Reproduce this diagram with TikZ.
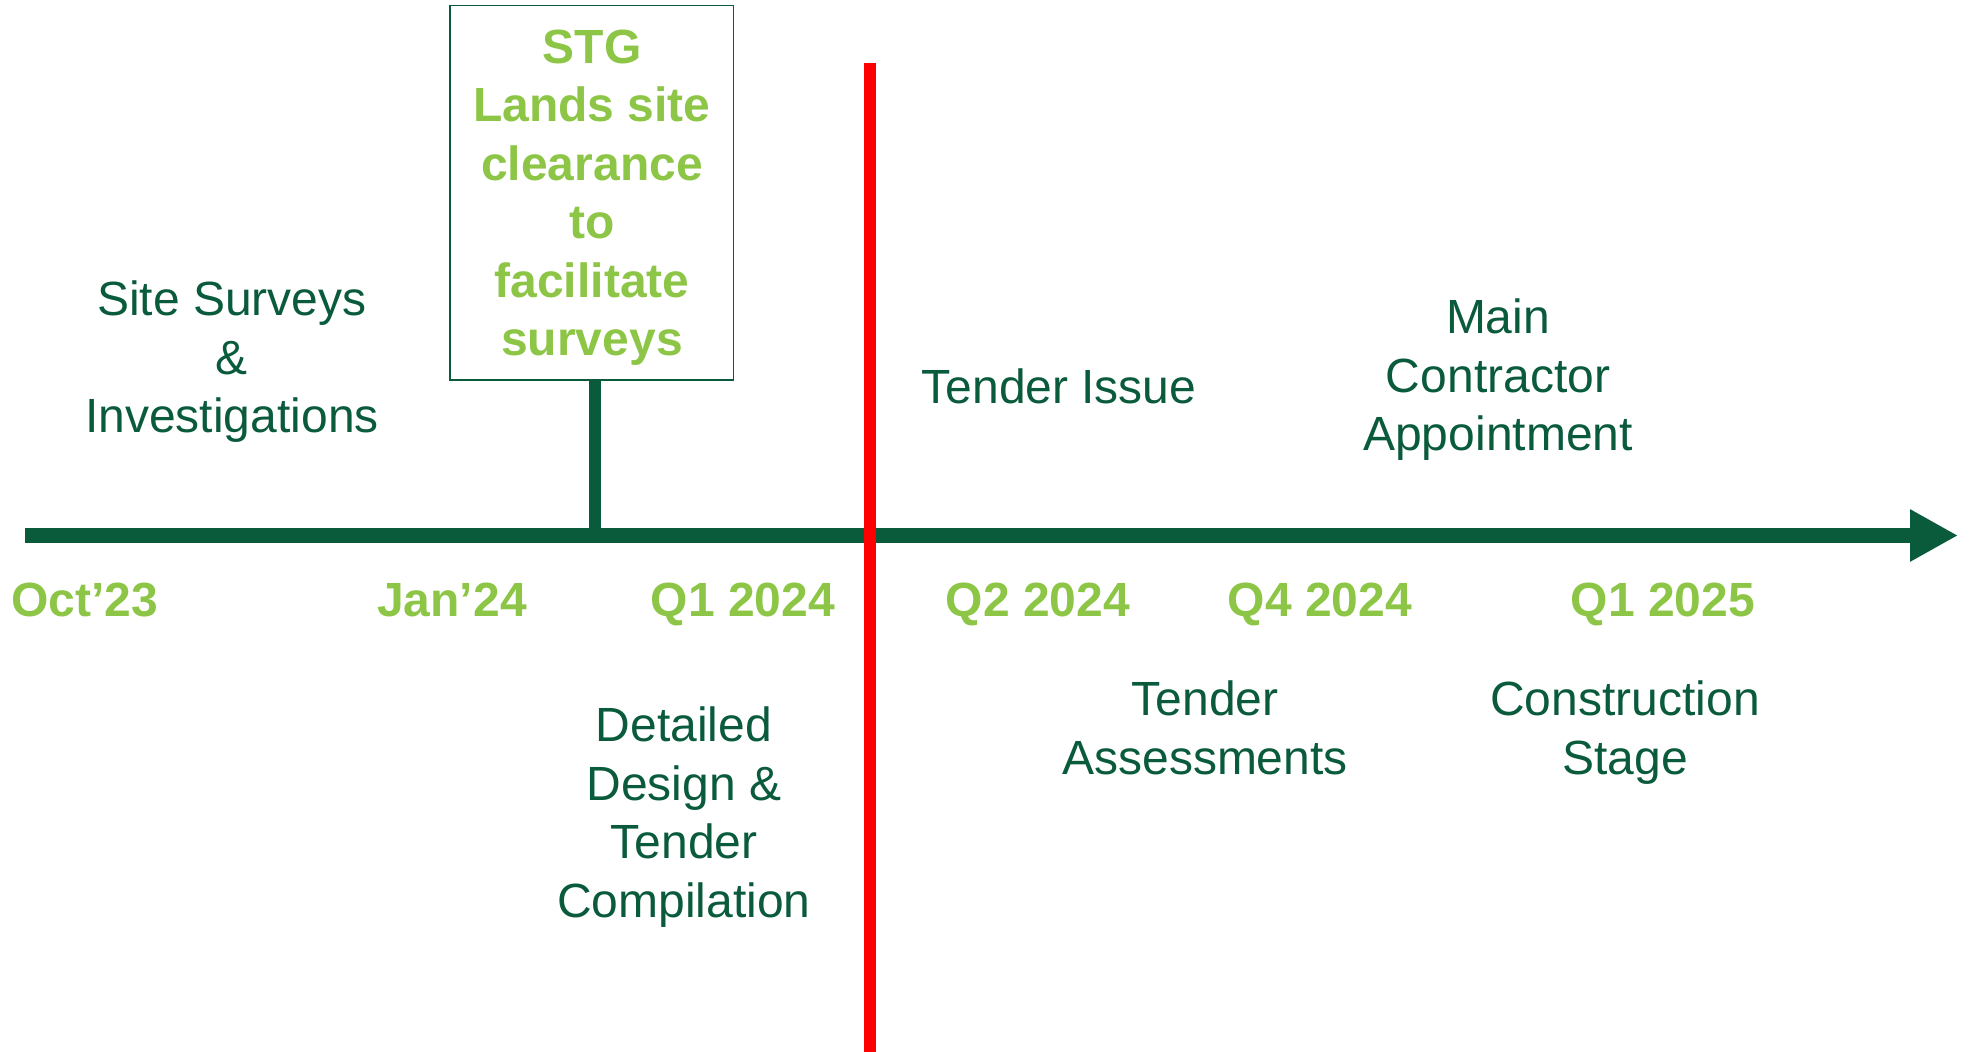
\documentclass[tikz,border=0pt]{standalone}
\usepackage{fontspec}
\setmainfont{Liberation Sans}
\usetikzlibrary{arrows.meta}
\definecolor{dkgreen}{HTML}{0A5A3C}
\definecolor{ltgreen}{HTML}{8DC646}
\definecolor{redline}{HTML}{FF0000}
\begin{document}
\begin{tikzpicture}[x=0.5pt,y=-0.5pt,
  lbl/.style={text=dkgreen, align=center, inner sep=0pt, anchor=base, font=\fontsize{24pt}{29.25pt}\selectfont},
  datelbl/.style={text=ltgreen, inner sep=0pt, anchor=base, font=\fontsize{24pt}{29.25pt}\selectfont\bfseries},
  boxtxt/.style={text=ltgreen, align=center, inner sep=0pt, anchor=base, font=\fontsize{24pt}{29.25pt}\selectfont\bfseries},
  stgbox/.style={draw=dkgreen, line width=0.7pt, minimum width=141.85pt, minimum height=187.35pt, inner sep=0pt},
  axisline/.style={draw=dkgreen, line width=7.8pt},
  stemline/.style={draw=dkgreen, line width=6pt},
  nowline/.style={draw=redline, line width=6pt}]
\useasboundingbox (0,0) rectangle (1969,1052);

% coordinates
\coordinate (axstart) at (25,535.5);
\coordinate (axend) at (1958,535.5);
\coordinate (stemfoot) at (595,535.5);
\coordinate (nowtop) at (870,63);
\coordinate (nowbot) at (870,1052);

% STG box (anchor base = baseline of the last line)
\node[stgbox] (stg) at (591.85,192.65) {};
\node[boxtxt] (stgtext) at (592,356) {STG\\Lands site\\clearance\\to\\facilitate\\surveys};

% stem and axis
\draw[stemline] (stg.south -| stemfoot) -- (stemfoot);
\draw[axisline, -{Triangle[length=24pt,width=24.5pt]}] (axstart) -- (axend);

% now line
\draw[nowline] (nowtop) -- (nowbot);

% date labels
\node[datelbl] (oct) at (85,617) {Oct’23};
\node[datelbl] (jan) at (452,617) {Jan’24};
\node[datelbl] (q124) at (743,617) {Q1 2024};
\node[datelbl] (q224) at (1038,617) {Q2 2024};
\node[datelbl] (q424) at (1320,617) {Q4 2024};
\node[datelbl] (q125) at (1663,617) {Q1 2025};

% activity labels
\node[lbl] (surveys) at (232,433) {Site Surveys\\\&\\Investigations};
\node[lbl] (issue) at (1059,404) {Tender Issue};
\node[lbl] (mca) at (1498,451) {Main\\Contractor\\Appointment};
\node[lbl] (design) at (684,917) {Detailed\\Design \&\\Tender\\Compilation};
\node[lbl] (assess) at (1205,774) {Tender\\Assessments};
\node[lbl] (constr) at (1625,774) {Construction\\Stage};
\end{tikzpicture}
\end{document}
